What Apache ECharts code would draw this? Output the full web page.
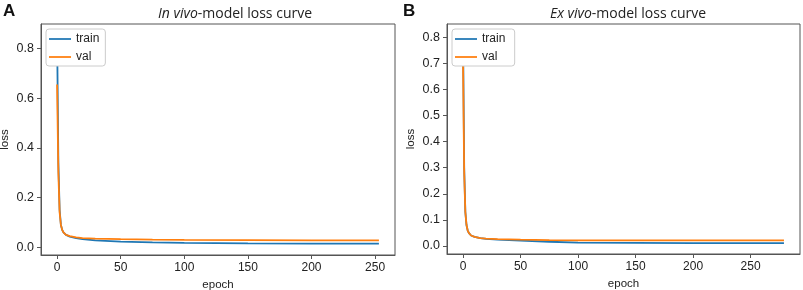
<!DOCTYPE html>
<html>
<head>
<meta charset="utf-8">
<script src="https://cdn.jsdelivr.net/npm/echarts@6/dist/echarts.min.js"></script>
<style>
  html, body { margin: 0; padding: 0; background: #fff; }
  #chart { width: 803px; height: 290px; }
</style>
</head>
<body>
<div id="chart"></div>
<script>
// values: [epoch, loss]
var inVivoTrain = [[0,0.86],[1,0.34],[2,0.15],[3,0.09],[4,0.07],[5,0.06],[7,0.05],[10,0.043],[15,0.037],[20,0.033],[30,0.028],[50,0.023],[75,0.02],[100,0.018],[150,0.016],[200,0.015],[253,0.015]];
var inVivoVal   = [[0,0.655],[1,0.3],[2,0.14],[3,0.09],[4,0.07],[5,0.06],[7,0.05],[10,0.045],[15,0.04],[20,0.037],[30,0.035],[50,0.033],[75,0.031],[100,0.03],[150,0.029],[200,0.028],[253,0.028]];
var exVivoTrain = [[0,0.81],[1,0.3],[2,0.13],[3,0.08],[4,0.06],[5,0.05],[7,0.04],[10,0.035],[15,0.03],[20,0.027],[30,0.024],[50,0.02],[75,0.016],[100,0.013],[150,0.012],[200,0.011],[279,0.011]];
var exVivoVal   = [[0,0.695],[1,0.28],[2,0.13],[3,0.08],[4,0.06],[5,0.05],[7,0.04],[10,0.035],[15,0.03],[20,0.028],[30,0.026],[50,0.024],[75,0.022],[100,0.021],[150,0.021],[200,0.021],[279,0.021]];

var xTicks = [0, 50, 100, 150, 200, 250];
var yTicksA = [0.0, 0.2, 0.4, 0.6, 0.8];
var yTicksB = [0.0, 0.1, 0.2, 0.3, 0.4, 0.5, 0.6, 0.7, 0.8];

var font = 'Liberation Sans';
var blue = '#1f77b4', orange = '#ff7f0e';

function xAxis(idx, min, max) {
    return {
	type: 'value', gridIndex: idx, min: min, max: max,
	name: 'epoch', nameLocation: 'middle', nameGap: 21,
	nameTextStyle: {fontFamily: font, fontSize: 11.5, color: '#222'},
	splitLine: {show: false},
	axisLine: {onZero: false, lineStyle: {color: '#555'}},
	axisTick: {customValues: xTicks, length: 4, lineStyle: {color: '#555'}},
	axisLabel: {customValues: xTicks, fontFamily: font, fontSize: 12, color: '#222', margin: 7}
    };
}

function yAxis(idx, min, max, ticks) {
    return {
	type: 'value', gridIndex: idx, min: min, max: max,
	name: 'loss', nameLocation: 'middle', nameGap: 30,
	nameTextStyle: {fontFamily: font, fontSize: 11.5, color: '#222'},
	splitLine: {show: false},
	axisLine: {onZero: false, lineStyle: {color: '#555'}},
	axisTick: {customValues: ticks, length: 4, lineStyle: {color: '#555'}},
	axisLabel: {customValues: ticks, fontFamily: font, fontSize: 12.5, color: '#222', margin: 7,
		    formatter: function (v) { return v.toFixed(1); }}
    };
}

function line(name, data, color, idx) {
    return {
	name: name, type: 'line', data: data, xAxisIndex: idx, yAxisIndex: idx,
	symbol: 'none', smooth: false, animation: false,
	lineStyle: {color: color, width: 1.8}, itemStyle: {color: color}
    };
}

function legend(left, names) {
    return {
	orient: 'vertical', left: left, top: 29,
	data: names,
	icon: 'path://M0,0 L25,0 L25,2 L0,2 Z',
	itemWidth: 22, itemHeight: 2, itemGap: 6,
	backgroundColor: '#fff', borderColor: '#ccc', borderWidth: 1, borderRadius: 3,
	padding: [4, 6, 3, 3],
	textStyle: {fontFamily: font, fontSize: 12, color: '#222'}
    };
}

var titleStyle = {fontFamily: 'Open Sans', fontSize: 14, fontWeight: 'normal', color: '#222',
		  rich: {i: {fontFamily: 'Open Sans', fontSize: 14, fontStyle: 'italic', color: '#222'}}};

var chart = echarts.init(document.getElementById('chart'), null, {renderer: 'canvas'});

chart.setOption({
    animation: false,
    backgroundColor: '#fff',
    title: [
	{text: 'A', left: -2, top: -2, textStyle: {fontFamily: 'Liberation Sans', fontSize: 17, fontWeight: 'bold', color: '#111'}},
	{text: 'B', left: 398, top: -2, textStyle: {fontFamily: 'Liberation Sans', fontSize: 17, fontWeight: 'bold', color: '#111'}},
	{text: '{i|In vivo}-model loss curve', left: 230, top: 2, textAlign: 'center', textStyle: titleStyle},
	{text: '{i|Ex vivo}-model loss curve', left: 623, top: 2, textAlign: 'center', textStyle: titleStyle}
    ],
    legend: [
	legend(46, ['train', 'val']),
	legend(452, ['train ', 'val '])
    ],
    grid: [
	{left: 41, right: 408, top: 24, bottom: 35, outerBoundsMode: 'none', containLabel: false,
	 show: true, borderColor: '#555', borderWidth: 1, backgroundColor: '#fff'},
	{left: 447, right: 3, top: 24, bottom: 36, outerBoundsMode: 'none', containLabel: false,
	 show: true, borderColor: '#555', borderWidth: 1, backgroundColor: '#fff'}
    ],
    xAxis: [xAxis(0, -12.65, 265.65), xAxis(1, -13.95, 292.95)],
    yAxis: [yAxis(0, -0.031, 0.898, yTicksA), yAxis(1, -0.031, 0.851, yTicksB)],
    series: [
	line('train', inVivoTrain, blue, 0),
	line('val', inVivoVal, orange, 0),
	line('train ', exVivoTrain, blue, 1),
	line('val ', exVivoVal, orange, 1)
    ]
});
</script>
</body>
</html>
